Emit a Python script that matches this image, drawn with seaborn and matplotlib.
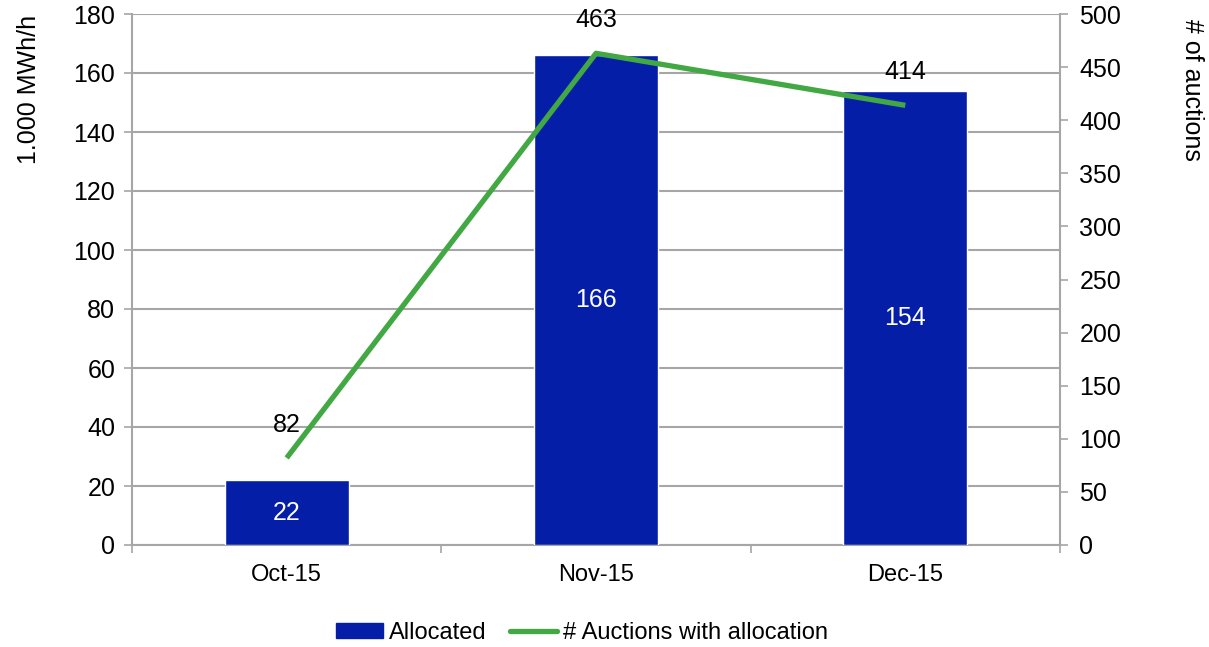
import matplotlib
matplotlib.use("Agg")
import matplotlib.pyplot as plt
import seaborn as sns
import pandas as pd
import numpy as np
from matplotlib.patches import Patch
from matplotlib.lines import Line2D

months = ["Oct-15", "Nov-15", "Dec-15"]
allocated = [22, 166, 154]
auctions = [82, 463, 414]
left_ticks = list(range(0, 181, 20))
right_ticks = list(range(0, 501, 50))

BLUE = "#041EA8"
GREEN = "#41A843"
GRAY = "#A6A6A6"

sns.set_theme(style="white")
plt.rcParams["font.family"] = ["Liberation Sans", "DejaVu Sans"]
plt.rcParams["text.color"] = "black"
plt.rcParams["xtick.color"] = "black"
plt.rcParams["ytick.color"] = "black"
plt.rcParams["axes.labelcolor"] = "black"

df = pd.DataFrame({"month": months, "allocated": allocated, "auctions": auctions})

FS = 18

fig = plt.figure(figsize=(12.09, 6.47), dpi=100)
ax = fig.add_axes([132/1209, 1-545/647, (1060-132)/1209, (545-14)/647])

sns.barplot(data=df, x="month", y="allocated", color=BLUE, width=0.4,
            saturation=1, ax=ax, zorder=3)
ax.set_ylim(0, 180)
ax.set_xlim(-0.5, 2.5)
ax.set_yticks(left_ticks)
ax.yaxis.grid(True, color=GRAY, linewidth=1.5, zorder=0)
ax.set_axisbelow(True)
ax.tick_params(axis="y", labelsize=FS, length=6, width=1.2, color=GRAY, left=True, pad=6,
               labelcolor="black")
ax.tick_params(axis="x", which="major", labelsize=17, length=0, pad=14, labelcolor="black")
ax.set_xticks([-0.5, 0.5, 1.5, 2.5], minor=True)
ax.tick_params(axis="x", which="minor", length=6, width=1.2, color=GRAY, bottom=True)
ax.set_xlabel("")
ax.set_ylabel("1.000 MWh/h", fontsize=FS)
ax.yaxis.set_label_coords(-0.098, 0.857)
for s in ["top", "right"]:
    ax.spines[s].set_visible(False)
for s in ["left", "bottom"]:
    ax.spines[s].set_color(GRAY)
    ax.spines[s].set_linewidth(1.5)

for i, v in enumerate(allocated):
    ax.text(i, v / 2, str(v), ha="center", va="center", color="white", fontsize=FS, zorder=5)

ax2 = ax.twinx()
sns.lineplot(x=np.arange(len(months)), y=auctions, color=GREEN, linewidth=3.8, ax=ax2,
             solid_capstyle="butt", zorder=4)
ax2.set_ylim(0, 500)
ax2.set_yticks(right_ticks)
ax2.tick_params(axis="y", labelsize=FS, length=6, width=1.2, color=GRAY, right=True, pad=8,
                labelcolor="black")
ax2.set_ylabel("# of auctions", fontsize=FS, rotation=270)
ax2.yaxis.set_label_coords(1.155, 0.857)
for s in ["top", "left", "bottom"]:
    ax2.spines[s].set_visible(False)
ax2.spines["right"].set_color(GRAY)
ax2.spines["right"].set_linewidth(1.5)
ax2.grid(False)
for i, v in enumerate(auctions):
    ax2.annotate(str(v), (i, v), xytext=(0, 15), textcoords="offset points",
                 ha="center", va="bottom", fontsize=FS, color="black")

handles = [Patch(facecolor=BLUE, edgecolor=BLUE),
           Line2D([0], [0], color=GREEN, linewidth=3.8)]
fig.legend(handles, ["Allocated", "# Auctions with allocation"], loc="center",
           bbox_to_anchor=(582/1209, 1-633/647), ncol=2, frameon=False, fontsize=17,
           handlelength=2.0, handleheight=0.6, columnspacing=1.0, handletextpad=0.25,
           borderpad=0, borderaxespad=0)

fig.savefig("out.png", dpi=100)
